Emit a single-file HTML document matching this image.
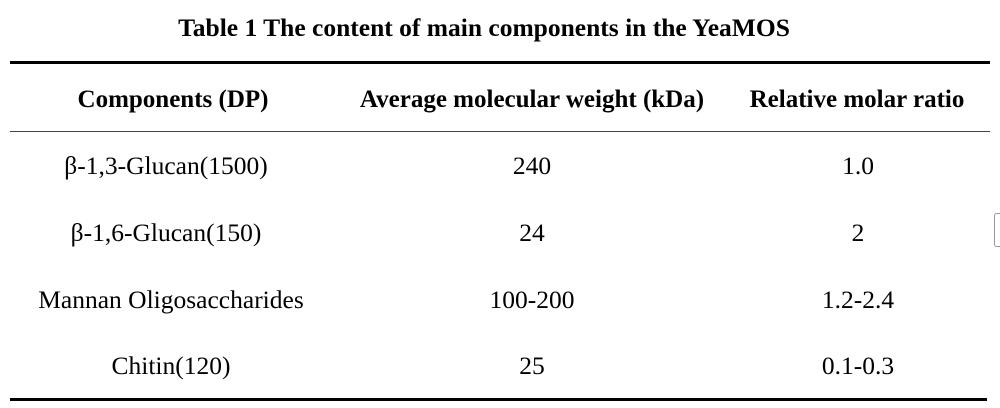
<!DOCTYPE html>
<html><head><style>
body{margin:0;width:1000px;height:408px;background:#fff;position:relative;overflow:hidden;font-family:"Liberation Serif",serif;color:#000}
.t{position:absolute;transform:translate(-50%,-50%);white-space:nowrap;font-size:25.5px}
.b{font-weight:bold}
.l{position:absolute}
</style></head><body>
<div class="t b" style="left:484px;top:28px;font-size:25.5px">Table 1 The content of main components in the YeaMOS</div>
<div class="l" style="left:10px;top:61px;width:980px;height:3px;background:#000"></div>
<div class="t b" style="left:173px;top:100px;font-size:25px">Components (DP)</div>
<div class="t b" style="left:532px;top:100px;font-size:25px">Average molecular weight (kDa)</div>
<div class="t b" style="left:857px;top:100px;font-size:25px">Relative molar ratio</div>
<div class="l" style="left:10px;top:131px;width:980px;height:1px;background:#444"></div>
<div class="t" style="left:166px;top:166px">β-1,3-Glucan(1500)</div>
<div class="t" style="left:532px;top:166px">240</div>
<div class="t" style="left:858px;top:166px">1.0</div>
<div class="t" style="left:166px;top:233px">β-1,6-Glucan(150)</div>
<div class="t" style="left:532px;top:233px">24</div>
<div class="t" style="left:858px;top:233px">2</div>
<div class="t" style="left:171px;top:300px">Mannan Oligosaccharides</div>
<div class="t" style="left:532px;top:300px">100-200</div>
<div class="t" style="left:858px;top:300px">1.2-2.4</div>
<div class="t" style="left:171px;top:366px">Chitin(120)</div>
<div class="t" style="left:532px;top:366px">25</div>
<div class="t" style="left:858px;top:366px">0.1-0.3</div>
<div class="l" style="left:10px;top:398px;width:977px;height:3px;background:#000"></div>
<div class="l" style="left:994px;top:213px;width:8px;height:32px;border:1px solid #999;border-radius:3px;border-right:none"></div>
</body></html>
